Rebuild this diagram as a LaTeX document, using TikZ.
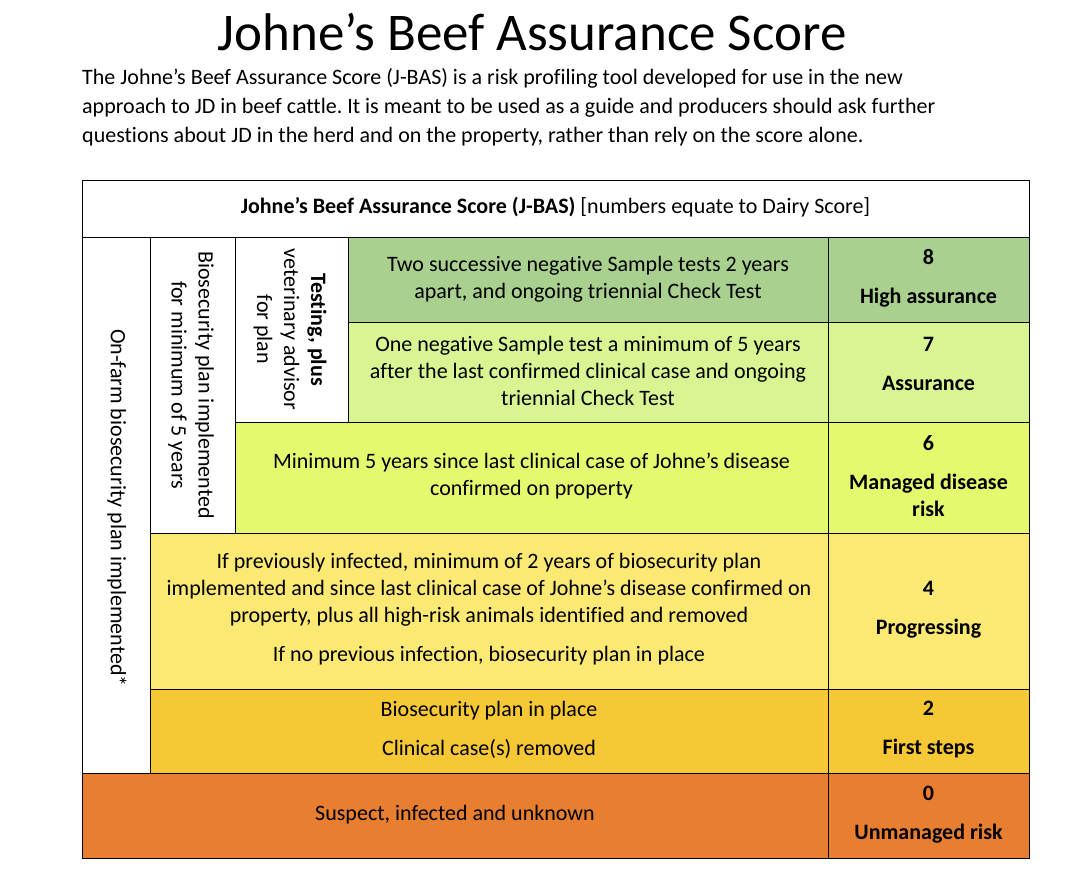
\documentclass[tikz,border=0pt]{standalone}
\usepackage{fontspec}
\setmainfont{Carlito}[Ligatures=NoCommon]
\frenchspacing
\definecolor{c8}{HTML}{A9D08E}
\definecolor{c7}{HTML}{D9F593}
\definecolor{c6}{HTML}{E6F86E}
\definecolor{c4}{HTML}{FCE974}
\definecolor{c2}{HTML}{F7C835}
\definecolor{c0}{HTML}{E87E2F}
\tikzset{
  cell/.style={draw=black,line width=0.8pt},
  txt/.style={font=\fontsize{22}{27}\selectfont,align=center,inner sep=0pt},
  vtxt/.style={txt,rotate=-90},
}
\begin{document}
\begin{tikzpicture}[x=1pt,y=-1pt]
\useasboundingbox (0,0) rectangle (1067,881);
\fill[white] (0,0) rectangle (1067,881);
% title and intro
\node[anchor=base,inner sep=0pt,font=\fontsize{53}{58}\selectfont] (title) at (532,50) {Johne’s Beef Assurance Score};
\node[anchor=base west,inner sep=0pt,align=left,font=\fontsize{22}{29}\selectfont] (intro) at (82,142)
 {The Johne’s Beef Assurance Score (J-BAS) is a risk profiling tool developed for use in the new\\
  approach to JD in beef cattle. It is meant to be used as a guide and producers should ask further\\
  questions about JD in the herd and on the property, rather than rely on the score alone.};
% cells
\draw[cell,fill=white] (82,180) rectangle (1029,237);
\draw[cell,fill=white] (82,237) rectangle (150,773);
\draw[cell,fill=white] (150,237) rectangle (235,533);
\draw[cell,fill=white] (235,237) rectangle (348,422);
\draw[cell,fill=c8] (348,237) rectangle (828,322);
\draw[cell,fill=c8] (828,237) rectangle (1029,322);
\draw[cell,fill=c7] (348,322) rectangle (828,422);
\draw[cell,fill=c7] (828,322) rectangle (1029,422);
\draw[cell,fill=c6] (235,422) rectangle (828,533);
\draw[cell,fill=c6] (828,422) rectangle (1029,533);
\draw[cell,fill=c4] (150,533) rectangle (828,689);
\draw[cell,fill=c4] (828,533) rectangle (1029,689);
\draw[cell,fill=c2] (150,689) rectangle (828,773);
\draw[cell,fill=c2] (828,689) rectangle (1029,773);
\draw[cell,fill=c0] (82,773) rectangle (828,858);
\draw[cell,fill=c0] (828,773) rectangle (1029,858);
% header
\node[txt] (hdr) at (555.5,207) {\textbf{Johne’s Beef Assurance Score (J-BAS)} [numbers equate to Dairy Score]};
% vertical labels
\node[vtxt] (v1) at (117,508) {On-farm biosecurity plan implemented*};
\node[vtxt] (v2) at (191,385) {Biosecurity plan implemented\\for minimum of 5 years};
\node[vtxt] (v3) at (290,329.5) {\textbf{Testing, plus}\\veterinary advisor\\for plan};
% rows
\node[txt] (r8t) at (588,279) {Two successive negative Sample tests 2 years\\apart, and ongoing triennial Check Test};
\node[txt] (r8s) at (928.5,278) {\textbf{8}\\[12pt]\textbf{High assurance}};
\node[txt] (r7t) at (588,370.5) {One negative Sample test a minimum of 5 years\\after the last confirmed clinical case and ongoing\\triennial Check Test};
\node[txt] (r7s) at (928.5,363.5) {\textbf{7}\\[12pt]\textbf{Assurance}};
\node[txt] (r6t) at (531.5,476.5) {Minimum 5 years since last clinical case of Johne’s disease\\confirmed on property};
\node[txt] (r6s) at (928.5,476) {\textbf{6}\\[12pt]\textbf{Managed disease}\\\textbf{risk}};
\node[txt] (r4t) at (489,609.5) {If previously infected, minimum of 2 years of biosecurity plan\\implemented and since last clinical case of Johne’s disease confirmed on\\property, plus all high-risk animals identified and removed\\[12pt]If no previous infection, biosecurity plan in place};
\node[txt] (r4s) at (928.5,609.5) {\textbf{4}\\[12pt]\textbf{Progressing}};
\node[txt] (r2t) at (489,729.5) {Biosecurity plan in place\\[12pt]Clinical case(s) removed};
\node[txt] (r2s) at (928.5,729.5) {\textbf{2}\\[12pt]\textbf{First steps}};
\node[txt] (r0t) at (455,815) {Suspect, infected and unknown};
\node[txt] (r0s) at (928.5,814.5) {\textbf{0}\\[12pt]\textbf{Unmanaged risk}};
\end{tikzpicture}
\end{document}
